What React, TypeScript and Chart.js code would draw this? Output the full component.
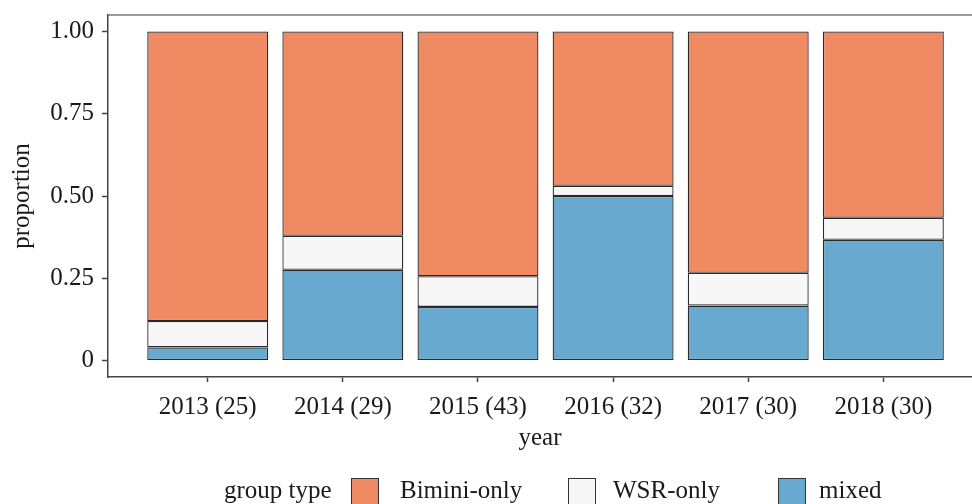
import React, { useEffect, useRef } from "react";
import { Chart, registerables } from "chart.js";

Chart.register(...registerables);

const years = ["2013 (25)", "2014 (29)", "2015 (43)", "2016 (32)", "2017 (30)", "2018 (30)"];
const mixed = [0.04, 0.276, 0.163, 0.5, 0.167, 0.367];
const wsrOnly = [0.08, 0.103, 0.093, 0.031, 0.1, 0.067];
const biminiOnly = [0.88, 0.621, 0.744, 0.469, 0.733, 0.566];
const yTickValues = [0, 0.25, 0.5, 0.75, 1];
const yTickLabels = ["0", "0.25", "0.50", "0.75", "1.00"];

const FONT = "'Liberation Serif', 'DejaVu Serif', serif";
const TEXT = "#1a1a1a";
const AXIS = "#444";

const legendPlugin = {
  id: "ggLegend",
  afterDraw(chart: any) {
    const ctx = chart.ctx;
    ctx.save();
    // top panel border
    const a = chart.chartArea;
    ctx.strokeStyle = "#7a7a7a";
    ctx.lineWidth = 1.5;
    ctx.beginPath();
    ctx.moveTo(a.left, a.top);
    ctx.lineTo(a.right, a.top);
    ctx.stroke();

    ctx.font = `25px ${FONT}`;
    ctx.fillStyle = TEXT;
    ctx.textBaseline = "middle";
    ctx.textAlign = "left";
    const yMid = 491;
    ctx.fillText("group type", 224, yMid);
    const keyX = [351, 568, 778];
    const labelX = [400, 613, 819];
    const ds = chart.data.datasets.slice().reverse();
    ds.forEach((d: any, i: number) => {
      const x = keyX[i];
      ctx.fillStyle = d.backgroundColor;
      ctx.fillRect(x, 478, 28, 30);
      ctx.strokeStyle = "#333";
      ctx.lineWidth = 1;
      ctx.strokeRect(x + 0.5, 478.5, 27, 30);
      ctx.fillStyle = TEXT;
      ctx.fillText(d.label, labelX[i], yMid);
    });
    ctx.restore();
  },
};

export default function App() {
  const ref = useRef<HTMLCanvasElement>(null);
  useEffect(() => {
    if (!ref.current) return;
    const toPts = (arr: number[]) => arr.map((v, i) => ({ x: i + 1, y: v }));
    const common = {
      borderColor: "#2a2a2a",
      borderWidth: 1.3,
      borderSkipped: false,
      barPercentage: 0.895,
      categoryPercentage: 1,
    };
    const chart = new Chart(ref.current, {
      type: "bar",
      data: {
        datasets: [
          { label: "mixed", data: toPts(mixed), backgroundColor: "#67a9cf", ...common },
          { label: "WSR-only", data: toPts(wsrOnly), backgroundColor: "#f7f7f7", ...common },
          { label: "Bimini-only", data: toPts(biminiOnly), backgroundColor: "#ef8a62", ...common },
        ],
      } as any,
      options: {
        animation: false,
        responsive: true,
        maintainAspectRatio: false,
        layout: { padding: { top: 15, left: 0, right: 0, bottom: 0 } },
        plugins: { legend: { display: false }, tooltip: { enabled: false } },
        scales: {
          x: {
            type: "linear",
            stacked: true,
            min: 0.262,
            max: 6.656,
            offset: false,
            afterBuildTicks: (s: any) => {
              s.ticks = years.map((_, i) => ({ value: i + 1 }));
            },
            afterFit: (s: any) => {
              s.height = 127;
              s.paddingLeft = 0;
              s.paddingRight = 0;
            },
            ticks: {
              autoSkip: false,
              maxRotation: 0,
              padding: 10,
              color: TEXT,
              font: { family: FONT, size: 25 },
              callback: (_v: any, i: number) => years[i],
            },
            grid: {
              display: true,
              offset: false,
              drawOnChartArea: false,
              drawTicks: true,
              tickLength: 5,
              tickColor: AXIS,
              tickWidth: 1.5,
            },
            border: { display: true, color: AXIS, width: 1.5 },
            title: {
              display: true,
              text: "year",
              color: TEXT,
              font: { family: FONT, size: 25 },
              padding: { top: 0, bottom: 51 },
            },
          },
          y: {
            type: "linear",
            stacked: true,
            min: -0.05,
            max: 1.05,
            afterBuildTicks: (s: any) => {
              s.ticks = yTickValues.map((v) => ({ value: v }));
            },
            afterFit: (s: any) => {
              s.width = 108;
              s.paddingTop = 0;
              s.paddingBottom = 0;
            },
            ticks: {
              padding: 8,
              color: TEXT,
              font: { family: FONT, size: 25 },
              callback: (_v: any, i: number) => yTickLabels[i],
            },
            grid: {
              display: true,
              drawOnChartArea: false,
              drawTicks: true,
              tickLength: 6,
              tickColor: AXIS,
              tickWidth: 1.5,
            },
            border: { display: true, color: AXIS, width: 1.5 },
            title: {
              display: true,
              text: "proportion",
              color: TEXT,
              font: { family: FONT, size: 25 },
              padding: { top: 7, bottom: 0 },
            },
          },
        },
      } as any,
      plugins: [legendPlugin],
    });
    return () => chart.destroy();
  }, []);
  return (
    <div style={{ position: "fixed", left: 0, top: 0, width: 972, height: 504 }}>
      <canvas ref={ref} style={{ display: "block" }} />
    </div>
  );
}
